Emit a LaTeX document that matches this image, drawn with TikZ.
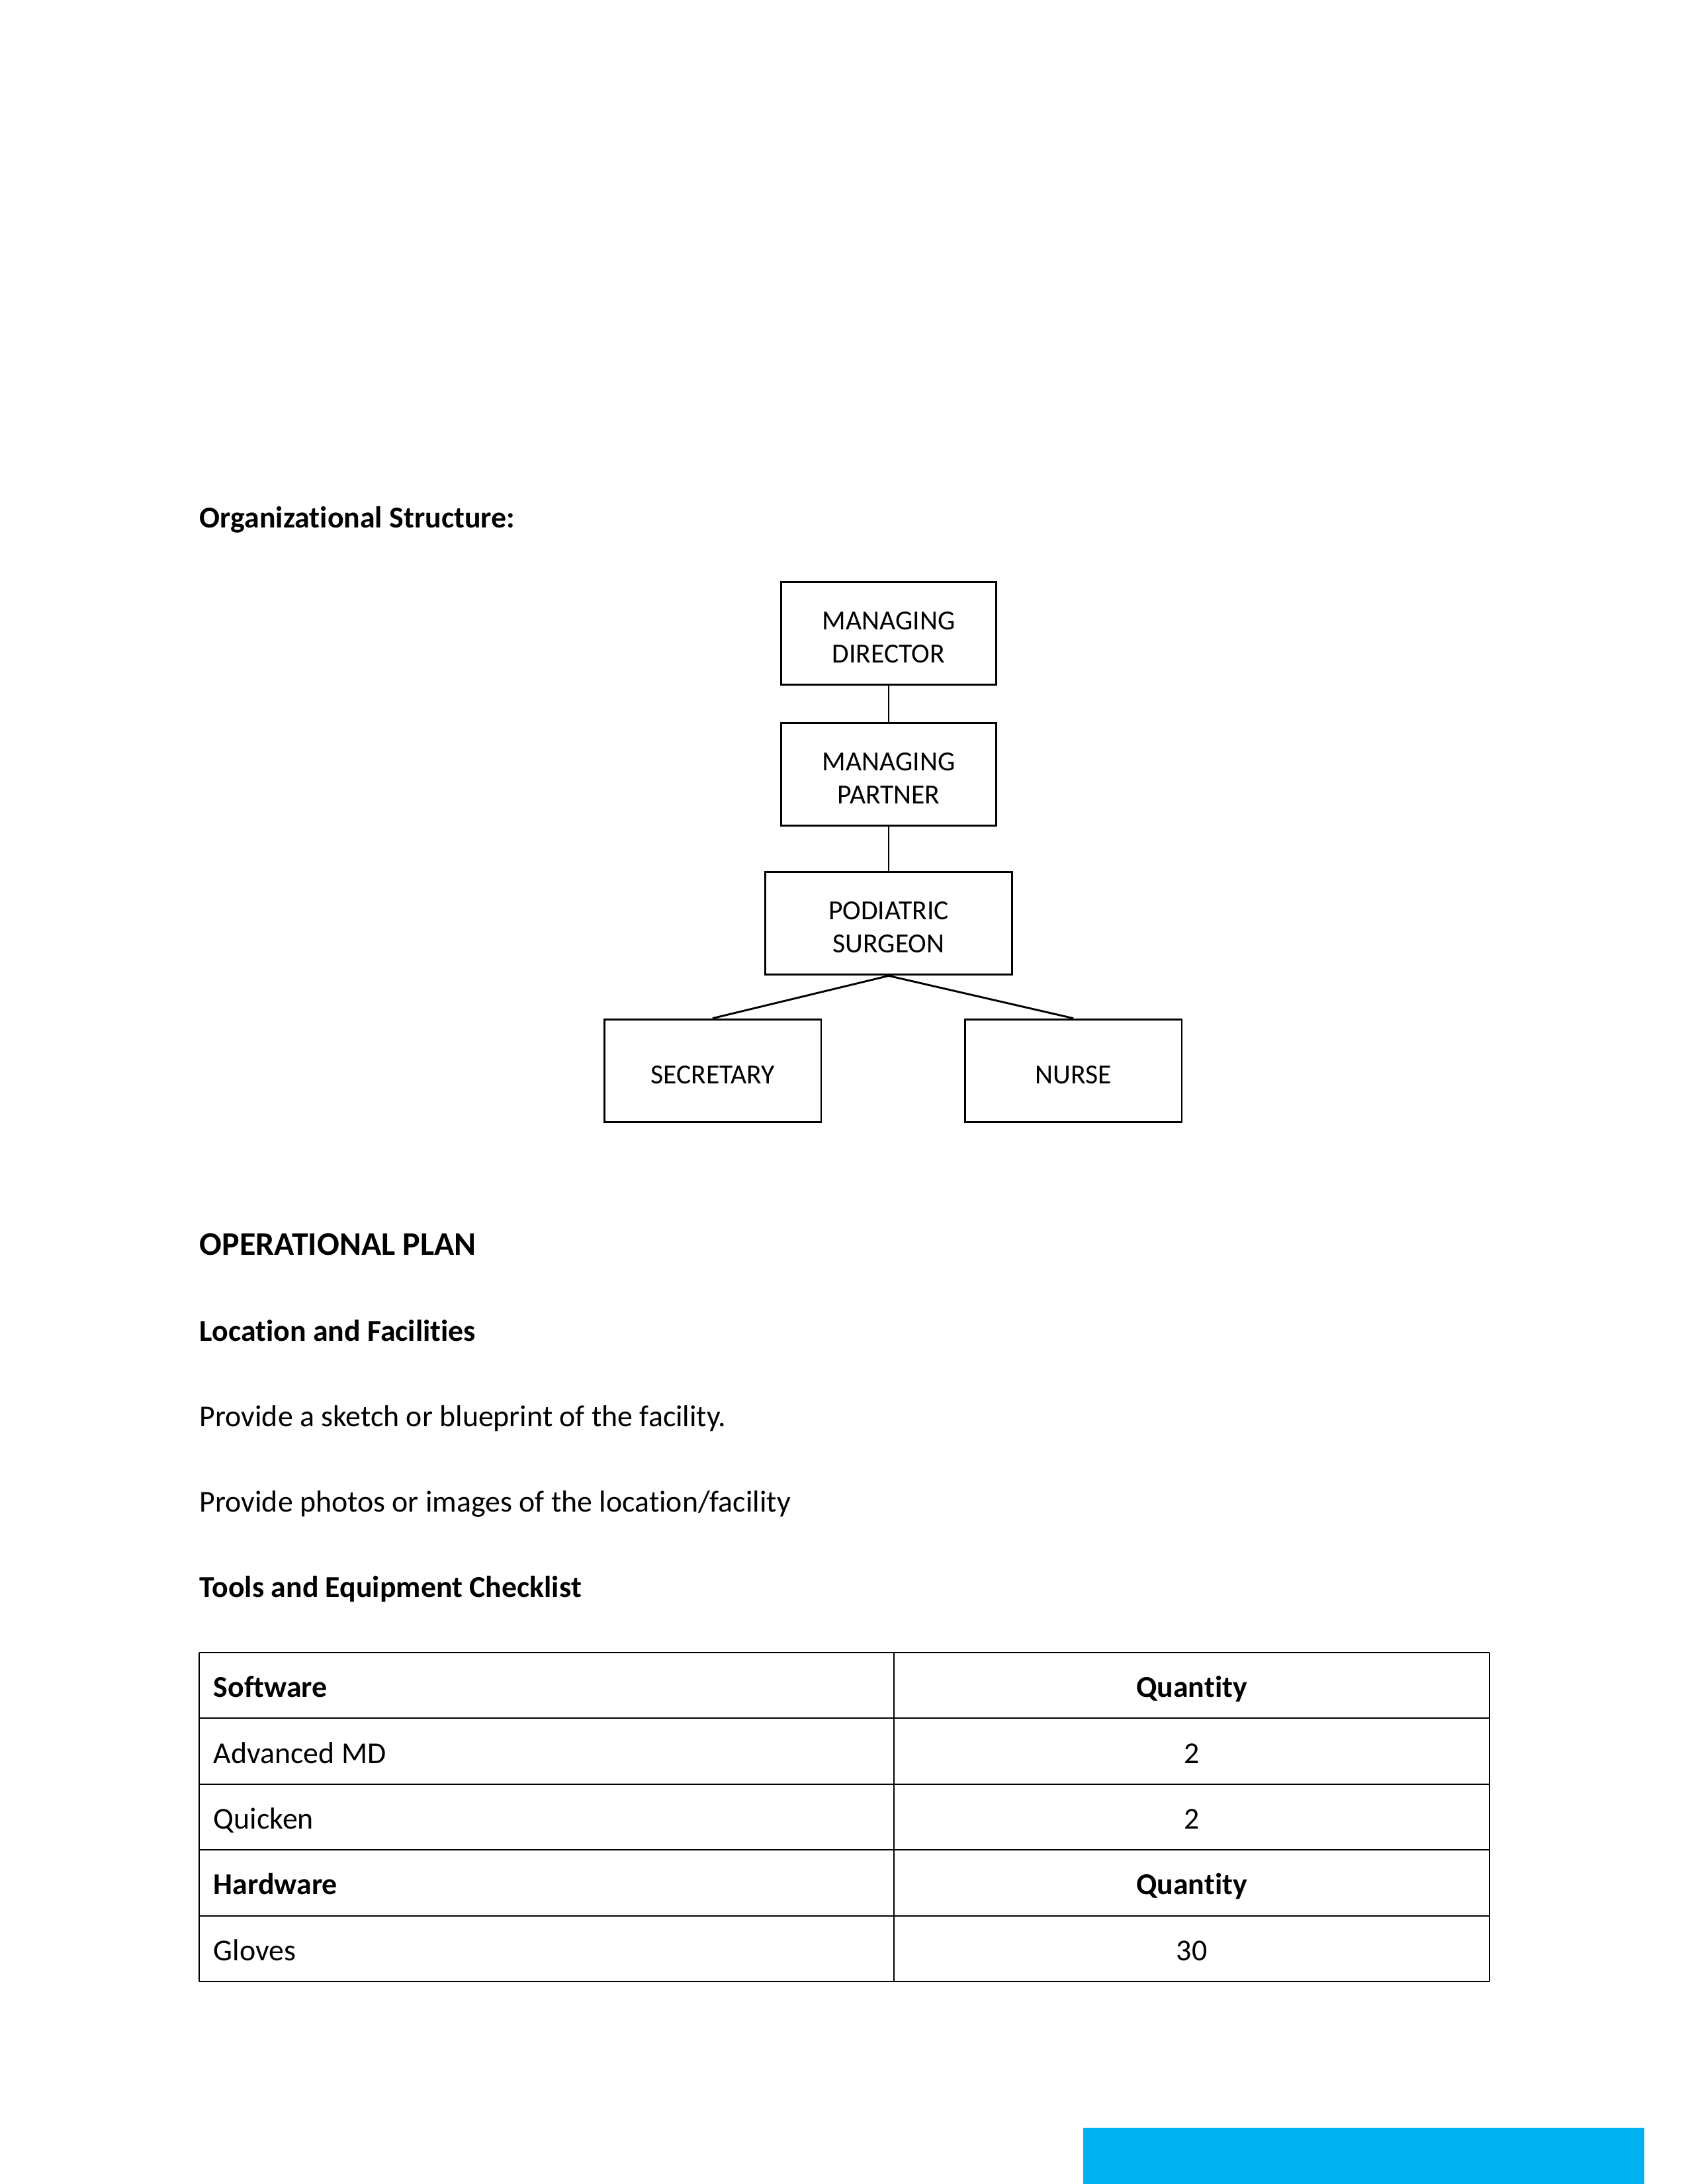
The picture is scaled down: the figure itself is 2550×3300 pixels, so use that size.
\documentclass[tikz,border=0pt]{standalone}
\usepackage{fontspec}
\setmainfont{Carlito}[Ligatures=NoCommon]
\usetikzlibrary{positioning}
\definecolor{barblue}{RGB}{0,176,240}
\newcommand{\topstrut}{\rule{0pt}{9.5pt}}

\begin{document}
\begin{tikzpicture}[x=0.24pt,y=-0.24pt,
  orgbox/.style={draw,line width=0.7pt,inner sep=0pt,minimum width=78.2pt,
    minimum height=37.4pt,align=center,font=\fontsize{10}{12}\selectfont},
  heading/.style={anchor=base west,inner sep=0pt,font=\fontsize{11}{13}\selectfont\bfseries},
  bodytext/.style={anchor=base west,inner sep=0pt,font=\fontsize{11}{13}\selectfont},
  cellleft/.style={anchor=base west,inner sep=0pt,font=\fontsize{11}{13}\selectfont},
  cellmid/.style={anchor=base,inner sep=0pt,font=\fontsize{11}{13}\selectfont},
  tline/.style={line width=0.5pt}]
\useasboundingbox (0,0) rectangle (2550,3300);
% ---------- headings and text ----------
\node[heading] (orghead) at (301,797) {Organizational Structure:};
\node[heading,font=\fontsize{12}{14}\selectfont\bfseries] (ophead) at (301,1896) {OPERATIONAL PLAN};
\node[heading] (lochead) at (301,2026) {Location and Facilities};
\node[bodytext] (sketch) at (301,2155) {Provide a sketch or blueprint of the facility.};
\node[bodytext] (photos) at (301,2284) {Provide photos or images of the location/facility};
\node[heading] (toolhead) at (301,2413) {Tools and Equipment Checklist};
% ---------- org chart ----------
\node[orgbox] (director) at (1343,957) {\topstrut MANAGING\\DIRECTOR};
\node[orgbox] (partner) at (1343,1170) {\topstrut MANAGING\\PARTNER};
\node[orgbox,minimum width=89.5pt] (surgeon) at (1343,1395) {\topstrut PODIATRIC\\SURGEON};
\node[orgbox,minimum width=78.7pt] (secretary) at (1077,1618) {\topstrut SECRETARY};
\node[orgbox,minimum width=78.7pt] (nurse) at (1622,1618) {\topstrut NURSE};
\draw[line width=0.7pt] (director.south) -- (partner.north);
\draw[line width=0.7pt] (partner.south) -- (surgeon.north);
\draw[line width=0.7pt] (surgeon.south) -- (secretary.north);
\draw[line width=0.7pt] (surgeon.south) -- (nurse.north);
% ---------- checklist table: 5 rows x 2 cols ----------
\foreach \r in {0,...,5}{
  \draw[tline] (301,{2497+\r*99.4}) -- (2251,{2497+\r*99.4});}
\foreach \c in {301,1351,2251}{
  \draw[tline] (\c,2497) -- (\c,2994);}
\foreach \r/\a/\b/\f in {0/Software/Quantity/\bfseries, 1/Advanced MD/2/, 2/Quicken/2/,
    3/Hardware/Quantity/\bfseries, 4/Gloves/30/}{
  \node[cellleft] (item\r) at (322,{2546.7+\r*99.4+18}) {\f\a};
  \node[cellmid] (qty\r) at (1801,{2546.7+\r*99.4+18}) {\f\b};}
% ---------- footer bar ----------
\fill[barblue] (1637,3215) rectangle (2485,3300);
\end{tikzpicture}
\end{document}
